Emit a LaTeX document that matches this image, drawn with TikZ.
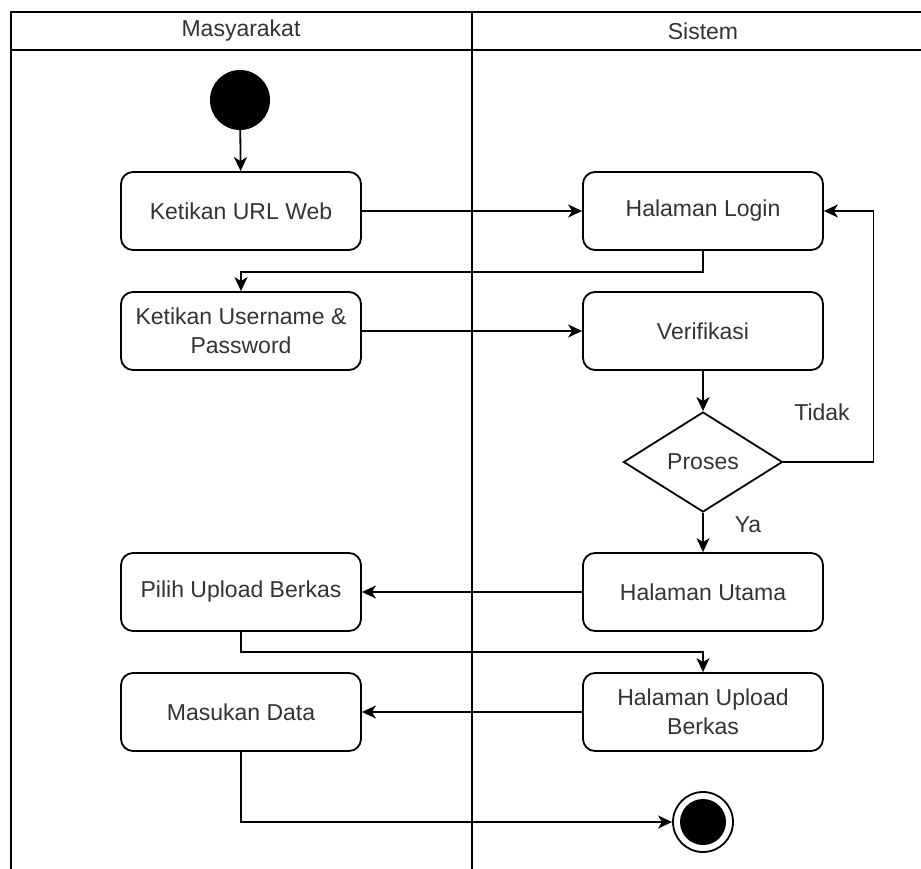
\documentclass[tikz,border=0pt]{standalone}
\usepackage{fontspec}
\setmainfont{Liberation Sans}
\usetikzlibrary{shapes.geometric,arrows.meta}
\definecolor{txt}{HTML}{333333}
\tikzset{
  act/.style={draw=black, line width=1.8pt, rounded corners=12pt, minimum width=240pt, minimum height=78pt, align=center, text=txt, font=\fontsize{23}{29}\selectfont, inner sep=2pt},
  arr/.style={draw=black, line width=1.8pt, -{Stealth[length=14pt,width=13pt,inset=4pt]}},
  lane/.style={draw=black, line width=1.6pt},
  lbl/.style={text=txt, font=\fontsize{23}{29}\selectfont},
}
\begin{document}
\begin{tikzpicture}[x=1pt,y=-1pt]
\useasboundingbox (0,0) rectangle (921,869);
% swimlanes
\draw[lane] (11,869) -- (11,12) -- (921,12);
\draw[lane] (11,50) -- (921,50);
\draw[lane] (472,12) -- (472,869);
\node[lbl] (h1) at (241,31) {Masyarakat};
\node[lbl] (h2) at (703,31) {Sistem};
% nodes
\node[circle, fill=black, minimum size=60pt, inner sep=0] (start) at (240,100) {};
\node[act] (url) at (241,211) {Ketikan URL Web};
\node[act] (login) at (703,211) {Halaman Login};
\node[act] (user) at (241,331) {Ketikan Username \&\\Password};
\node[act] (verif) at (703,331) {Verifikasi};
\node[diamond, draw=black, line width=1.8pt, minimum width=159pt, minimum height=100pt, aspect=1.59, inner sep=0, text=txt, font=\fontsize{23}{29}\selectfont] (dec) at (703,462) {Proses};
\node[act] (utama) at (703,592) {Halaman Utama};
\node[act] (pilih) at (241,592) {Pilih Upload Berkas};
\node[act] (upload) at (703,712) {Halaman Upload\\Berkas};
\node[act] (masuk) at (241,712) {Masukan Data};
\node[circle, draw=black, line width=1.8pt, minimum size=60pt, inner sep=0] (end) at (703,822) {};
\node[circle, fill=black, minimum size=46pt, inner sep=0] (endin) at (end.center) {};
% connectors
\draw[arr] (start) -- (url);
\draw[arr] (url) -- (login);
\draw[arr] (login.south) -- ++(0,21) -| (user.north);
\draw[arr] (user) -- (verif);
\draw[arr] (verif) -- (dec);
\draw[arr] (dec.east) -- ++(90,0) |- (login.east);
\node[lbl] (tidak) at (822,412) {Tidak};
\draw[arr] (dec.south) -- (utama.north);
\node[lbl] (ya) at (748,525) {Ya};
\draw[arr] (utama) -- (pilih);
\draw[arr] (pilih.south) -- ++(0,20) -| (upload.north);
\draw[arr] (upload) -- (masuk);
\draw[arr] (masuk.south) |- (end.west);
\end{tikzpicture}
\end{document}
